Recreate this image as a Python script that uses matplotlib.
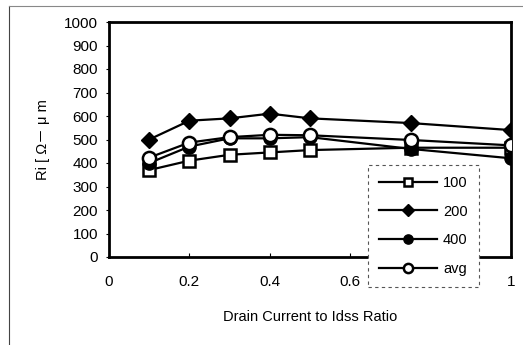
import matplotlib
matplotlib.use("Agg")
import matplotlib.pyplot as plt
from matplotlib.lines import Line2D

plt.rcParams['font.family'] = ['Liberation Sans', 'Noto Sans CJK JP', 'DejaVu Sans']

ratio = [0.1, 0.2, 0.3, 0.4, 0.5, 0.75, 1.0]
ri_100 = [370, 410, 435, 445, 455, 465, 465]
ri_200 = [500, 580, 590, 610, 590, 570, 540]
ri_400 = [400, 470, 505, 505, 510, 460, 420]
ri_avg = [423, 487, 510, 520, 518, 498, 475]
series_labels = ['100', '200', '400', 'avg']

fig = plt.figure(figsize=(5.23, 3.45), dpi=100)
ax = fig.add_axes([109 / 523, 88 / 345, 402 / 523, 235 / 345])

lw = 1.6
ax.plot(ratio, ri_100, color='black', lw=lw, marker='s', ms=8,
        mfc='white', mec='black', mew=1.8, label=series_labels[0], zorder=3)
ax.plot(ratio, ri_200, color='black', lw=lw, marker='D', ms=8.5,
        mfc='black', mec='black', label=series_labels[1], zorder=3)
ax.plot(ratio, ri_400, color='black', lw=lw, marker='o', ms=9.5,
        mfc='black', mec='black', label=series_labels[2], zorder=3)
ax.plot(ratio, ri_avg, color='black', lw=lw, marker='o', ms=9.5,
        mfc='white', mec='black', mew=1.8, label=series_labels[3], zorder=3)

ax.set_xlim(0, 1)
ax.set_ylim(0, 1000)
ax.set_xticks([0, 0.2, 0.4, 0.6, 0.8, 1])
ax.set_xticklabels(['0', '0.2', '0.4', '0.6', '0.8', '1'])
ax.set_yticks(range(0, 1001, 100))
ax.tick_params(axis='x', direction='in', length=3, width=0.8, labelsize=11, pad=13)
ax.tick_params(axis='y', direction='out', length=2, width=0.8, labelsize=11, pad=6)
for sp in ax.spines.values():
    sp.set_linewidth(2)

ax.set_xlabel('Drain Current to Idss Ratio', fontsize=10.5, labelpad=15)
ax.set_ylabel('Ri [ Ω－ μ m', fontsize=10.5, labelpad=10)

leg = ax.legend(loc='upper left', bbox_to_anchor=(368 / 523, 1 - 165 / 345),
                bbox_transform=fig.transFigure, fontsize=10.5, handlelength=4,
                labelspacing=1.0, borderpad=0.75, handletextpad=0.4,
                borderaxespad=0, fancybox=False, framealpha=1, markerscale=0.7)
leg.get_frame().set_edgecolor('#555555')
leg.get_frame().set_linewidth(0.8)
leg.get_frame().set_linestyle((0, (3, 3)))
leg.set_zorder(5)

# Thin page frame along the top and left
fig.add_artist(Line2D([9 / 523, 9 / 523], [0, 1 - 6 / 345], transform=fig.transFigure,
                      color='#444444', lw=0.8))
fig.add_artist(Line2D([9 / 523, 1], [1 - 6 / 345, 1 - 6 / 345], transform=fig.transFigure,
                      color='#888888', lw=0.8))

fig.savefig('out.png', dpi=100)
